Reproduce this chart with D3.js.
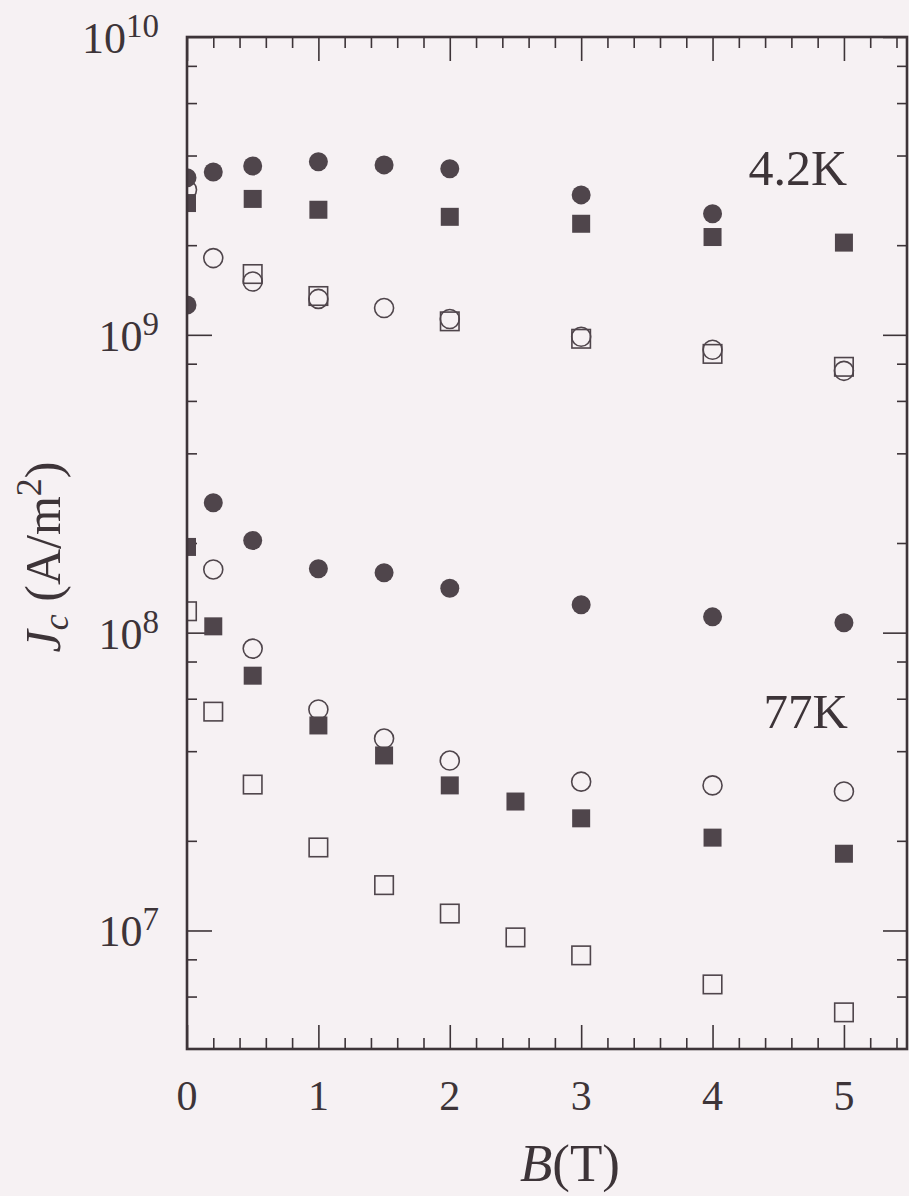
<!DOCTYPE html>
<html lang="en">
<head>
<meta charset="UTF-8">
<title>Jc vs B</title>
<script src="https://d3js.org/d3.v7.min.js"></script>
<style>
    body { margin: 0; background: #f6f1f3; }
    svg { display: block; }
    text { font-family: "Liberation Serif", "DejaVu Serif", serif; fill: #3d3438; }
    .frame { fill: none; stroke: #3d3438; stroke-width: 2.6px; }
    .axis path { display: none; }
    .axis line { stroke: #3d3438; stroke-width: 1.6px; }
</style>
</head>
<body>
<svg id="chart"></svg>
<script>
    // magnetic field (T) for each column of the series arrays
    const fields = [0, 0.2, 0.5, 1, 1.5, 2, 2.5, 3, 4, 5];

    // 4.2 K
    const k4FilledCircle = [3.37e9, 3.52e9, 3.69e9, 3.81e9, 3.72e9, 3.61e9, null, 2.95e9, 2.55e9, null];
    const k4FilledSquare = [2.77e9, null, 2.86e9, 2.63e9, null, 2.49e9, null, 2.36e9, 2.13e9, 2.04e9];
    const k4OpenCircle   = [3.07e9, 1.81e9, 1.51e9, 1.32e9, 1.23e9, 1.13e9, null, 9.85e8, 8.91e8, 7.57e8];
    const k4OpenSquare   = [null, null, 1.60e9, 1.35e9, null, 1.11e9, null, 9.70e8, 8.63e8, 7.81e8];

    // 77 K
    const k77FilledCircle = [1.26e9, 2.73e8, 2.04e8, 1.64e8, 1.59e8, 1.41e8, null, 1.24e8, 1.13e8, 1.08e8];
    const k77FilledSquare = [1.94e8, 1.05e8, 7.17e7, 4.88e7, 3.87e7, 3.07e7, 2.71e7, 2.38e7, 2.05e7, 1.81e7];
    const k77OpenCircle   = [null, 1.63e8, 8.84e7, 5.52e7, 4.41e7, 3.72e7, null, 3.16e7, 3.07e7, 2.93e7];
    const k77OpenSquare   = [1.18e8, 5.43e7, 3.09e7, 1.90e7, 1.42e7, 1.14e7, 9.48e6, 8.25e6, 6.59e6, 5.31e6];

    const xMajor = [0, 1, 2, 3, 4, 5];
    const yMajor = [1e7, 1e8, 1e9, 1e10];
    const yExponents = ["7", "8", "9", "10"];
    const tempLabels = ["4.2K", "77K"];

    const series = [
        {values: k4FilledCircle, shape: "circle", filled: true},
        {values: k4FilledSquare, shape: "square", filled: true},
        {values: k4OpenSquare, shape: "square", filled: false},
        {values: k4OpenCircle, shape: "circle", filled: false},
        {values: k77FilledCircle, shape: "circle", filled: true},
        {values: k77FilledSquare, shape: "square", filled: true},
        {values: k77OpenSquare, shape: "square", filled: false},
        {values: k77OpenCircle, shape: "circle", filled: false}
    ];

    const W = 909, H = 1196;
    const pLeft = 187, pRight = 907, pTop = 37, pBottom = 1049;
    const ink = "#4f454b";

    const svg = d3.select("#chart").attr("width", W).attr("height", H);

    const x = d3.scaleLinear().domain([0, 5.48]).range([pLeft, pRight]);
    const y = d3.scaleLog().domain([4e6, 1e10]).range([pBottom, pTop]);

    // minor ticks
    const xMinor = d3.range(0, 5.5, 0.2).map(v => +v.toFixed(1)).filter(v => !xMajor.includes(v));
    const yMinor = [];
    [1e6, 1e7, 1e8, 1e9].forEach(d => [2, 4, 6, 8].forEach(m => {
        const v = m * d;
        if (v > 4e6 && v < 1e10) yMinor.push(v);
    }));

    const ph = pBottom - pTop, pw = pRight - pLeft;
    function addAxis(gen, vals, size, tx, ty) {
        svg.append("g").attr("class", "axis")
            .attr("transform", `translate(${tx},${ty})`)
            .call(gen.tickValues(vals).tickSizeInner(size).tickSizeOuter(0).tickFormat(""));
    }
    addAxis(d3.axisBottom(x), xMajor, -24, 0, pBottom);
    addAxis(d3.axisBottom(x), xMinor, -11, 0, pBottom);
    addAxis(d3.axisTop(x), xMajor, -24, 0, pTop);
    addAxis(d3.axisTop(x), xMinor, -11, 0, pTop);
    addAxis(d3.axisLeft(y), yMajor, -25, pLeft, 0);
    addAxis(d3.axisLeft(y), yMinor, -10, pLeft, 0);
    addAxis(d3.axisRight(y), yMajor, -24, pRight, 0);
    addAxis(d3.axisRight(y), yMinor, -10, pRight, 0);

    // markers, clipped to the frame
    svg.append("clipPath").attr("id", "plot-clip")
        .append("rect").attr("x", pLeft).attr("y", pTop).attr("width", pw).attr("height", ph);
    const marks = svg.append("g").attr("clip-path", "url(#plot-clip)");

    series.forEach(s => {
        const pts = fields.map((b, i) => ({b, v: s.values[i]})).filter(d => d.v != null);
        const g = marks.append("g");
        if (s.shape === "circle") {
            g.selectAll("circle").data(pts).join("circle")
                .attr("cx", d => x(d.b)).attr("cy", d => y(d.v))
                .attr("r", 9.5)
                .attr("fill", s.filled ? ink : "none")
                .attr("stroke", ink).attr("stroke-width", s.filled ? 0 : 1.6);
        } else {
            const a = s.filled ? 18 : 18.5;
            g.selectAll("rect").data(pts).join("rect")
                .attr("x", d => x(d.b) - a / 2).attr("y", d => y(d.v) - a / 2)
                .attr("width", a).attr("height", a)
                .attr("fill", s.filled ? ink : "none")
                .attr("stroke", ink).attr("stroke-width", s.filled ? 0 : 1.6);
        }
    });

    svg.append("rect").attr("class", "frame")
        .attr("x", pLeft).attr("y", pTop).attr("width", pw).attr("height", ph);

    // y tick labels 10^n
    yMajor.forEach((v, i) => {
        const t = svg.append("text")
            .attr("x", 159).attr("y", y(v) + 16)
            .attr("text-anchor", "end")
            .style("font-size", "44px");
        t.append("tspan").text("10");
        t.append("tspan").attr("dy", -16).style("font-size", "33px").text(yExponents[i]);
    });

    // x tick labels
    svg.selectAll(".xlab").data(xMajor).join("text")
        .attr("class", "xlab")
        .attr("x", d => x(d)).attr("y", 1110)
        .attr("text-anchor", "middle")
        .style("font-size", "42px")
        .text(d => d);

    // axis titles
    const xt = svg.append("text").attr("x", 570).attr("y", 1181)
        .attr("text-anchor", "middle").style("font-size", "53px");
    xt.append("tspan").style("font-style", "italic").text("B");
    xt.append("tspan").text("(T)");

    const yt = svg.append("text")
        .attr("transform", "translate(60,557) rotate(-90)")
        .attr("text-anchor", "middle").style("font-size", "50px");
    yt.append("tspan").style("font-style", "italic").text("J");
    yt.append("tspan").style("font-style", "italic").style("font-size", "36px").attr("dy", 8).text("c");
    yt.append("tspan").attr("dy", -8).text(" (A/m");
    yt.append("tspan").style("font-size", "36px").attr("dy", -19).text("2");
    yt.append("tspan").attr("dy", 19).text(")");

    // temperature labels
    svg.append("text").attr("x", 847).attr("y", 185)
        .attr("text-anchor", "end").style("font-size", "50px").text(tempLabels[0]);
    svg.append("text").attr("x", 848).attr("y", 728)
        .attr("text-anchor", "end").style("font-size", "49px").text(tempLabels[1]);
</script>
</body>
</html>
